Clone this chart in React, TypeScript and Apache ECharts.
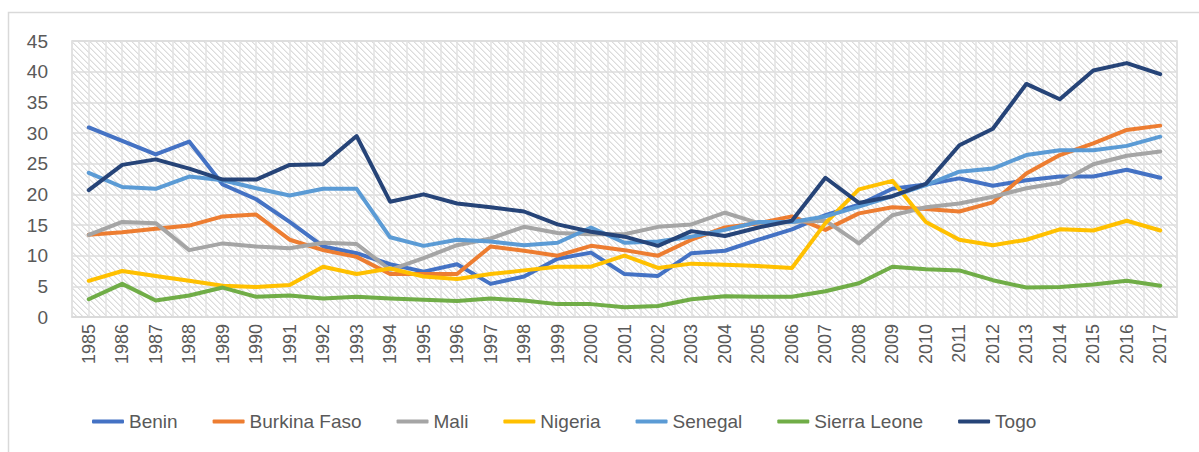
import React, { useEffect, useRef } from "react";
import * as echarts from "echarts";

const years = [
  "1985","1986","1987","1988","1989","1990","1991","1992","1993","1994","1995",
  "1996","1997","1998","1999","2000","2001","2002","2003","2004","2005","2006",
  "2007","2008","2009","2010","2011","2012","2013","2014","2015","2016","2017",
];

const benin = [30.9,28.7,26.5,28.6,21.6,19.2,15.5,11.5,10.4,8.6,7.4,8.6,5.4,6.6,9.5,10.5,7.0,6.7,10.4,10.8,12.6,14.3,16.6,18.3,20.9,21.6,22.6,21.4,22.3,22.9,22.9,24.0,22.7];
const burkinaFaso = [13.4,13.8,14.4,14.9,16.4,16.7,12.6,10.9,9.8,7.0,7.0,7.0,11.5,10.8,10.0,11.6,10.9,10.0,12.6,14.6,15.3,16.4,14.2,16.9,17.9,17.6,17.2,18.7,23.4,26.4,28.3,30.5,31.2];
const mali = [13.4,15.5,15.3,10.9,12.0,11.5,11.2,12.1,11.9,7.7,9.6,11.7,12.8,14.7,13.7,13.5,13.5,14.7,15.1,17.0,15.3,15.5,15.7,12.0,16.6,17.9,18.5,19.6,21.0,21.9,24.9,26.3,27.0];
const nigeria = [5.9,7.5,6.7,5.9,5.1,4.9,5.2,8.2,7.0,7.9,6.6,6.2,7.0,7.6,8.2,8.2,10.0,8.0,8.7,8.5,8.3,8.0,15.3,20.8,22.2,15.5,12.6,11.7,12.6,14.3,14.1,15.7,14.1];
const senegal = [23.5,21.2,20.9,22.9,22.3,21.0,19.8,20.9,20.9,13.0,11.6,12.6,12.3,11.7,12.1,14.6,12.1,12.3,13.1,14.2,15.5,15.5,16.4,18.0,19.7,21.5,23.7,24.2,26.4,27.2,27.2,27.9,29.4];
const sierraLeone = [2.9,5.4,2.7,3.5,4.8,3.3,3.5,3.0,3.3,3.0,2.8,2.6,3.0,2.7,2.1,2.1,1.6,1.8,2.9,3.4,3.3,3.3,4.2,5.5,8.2,7.8,7.6,6.0,4.8,4.9,5.3,5.9,5.1];
const togo = [20.7,24.8,25.7,24.2,22.4,22.4,24.8,24.9,29.5,18.8,20.0,18.5,17.9,17.2,15.1,13.9,13.1,11.6,14.0,13.2,14.6,15.7,22.7,18.6,19.7,21.7,28.0,30.7,38.0,35.5,40.2,41.4,39.6];

const seriesNames = ["Benin","Burkina Faso","Mali","Nigeria","Senegal","Sierra Leone","Togo"];
const seriesData = [benin, burkinaFaso, mali, nigeria, senegal, sierraLeone, togo];
const colors = ["#4472C4","#ED7D31","#A5A5A5","#FFC000","#5B9BD5","#70AD47","#264478"];

const yTicks = { min: 0, max: 45, interval: 5 };

function makeHatch() {
  const c = document.createElement("canvas");
  const n = 6;
  c.width = n;
  c.height = n;
  const ctx = c.getContext("2d")!;
  ctx.fillStyle = "#ffffff";
  ctx.fillRect(0, 0, n, n);
  for (let i = 0; i < n; i++) {
    ctx.fillStyle = "#dcdcdc";
    ctx.fillRect(i, i, 1, 1);
    ctx.fillStyle = "#ececec";
    ctx.fillRect((i + 1) % n, i, 1, 1);
  }
  return c;
}

export default function App() {
  const ref = useRef<HTMLDivElement>(null);
  useEffect(() => {
    document.body.style.margin = "0";
    const chart = echarts.init(ref.current!, null, { renderer: "svg" });
    const font = "Liberation Sans";
    chart.setOption({
      animation: false,
      backgroundColor: "#ffffff",
      textStyle: { fontFamily: font },
      graphic: [
        {
          type: "rect",
          shape: { x: 8.5, y: 12.5, width: 1200, height: 460 },
          style: { fill: "none", stroke: "#d9d9d9", lineWidth: 1.5 },
          z: -10,
          silent: true,
        },
      ],
      grid: {
        left: 72,
        top: 41,
        right: 22,
        bottom: 135,
        show: true,
        backgroundColor: { image: makeHatch(), repeat: "repeat" },
        borderColor: "#d9d9d9",
        borderWidth: 1.5,
      },
      legend: {
        left: 87,
        top: 407,
        icon: "roundRect",
        itemWidth: 32,
        itemHeight: 4,
        itemGap: 35,
        textStyle: { fontSize: 19, color: "#595959", fontFamily: font },
        data: seriesNames,
      },
      xAxis: [
        {
          type: "category",
          data: years,
          boundaryGap: true,
          axisLine: { show: true, lineStyle: { color: "#d9d9d9", width: 1.5 } },
          axisTick: { show: false },
          splitLine: { show: false },
          axisLabel: {
            rotate: 90,
            fontSize: 18,
            color: "#595959",
            margin: 7,
            interval: 0,
            fontFamily: font,
          },
        },
        {
          type: "value",
          min: 0,
          max: 66,
          interval: 1,
          position: "top",
          show: true,
          axisLine: { show: false },
          axisTick: { show: false },
          axisLabel: { show: false },
          splitLine: { show: true, lineStyle: { color: "#e2e2e2", width: 1.5 } },
        },
      ],
      yAxis: {
        type: "value",
        min: yTicks.min,
        max: yTicks.max,
        interval: yTicks.interval,
        axisLine: { show: false },
        axisTick: { show: false },
        axisLabel: { fontSize: 19, color: "#595959", margin: 24, fontFamily: font },
        splitLine: { show: true, lineStyle: { color: "#dcdcdc", width: 1.5 } },
      },
      series: seriesNames.map((name, i) => ({
        name,
        type: "line",
        xAxisIndex: 0,
        data: seriesData[i],
        showSymbol: false,
        symbol: "none",
        color: colors[i],
        lineStyle: { width: 4, color: colors[i], cap: "round", join: "round" },
        itemStyle: { color: colors[i] },
        z: 2 + i,
      })),
    });
    return () => chart.dispose();
  }, []);
  return <div ref={ref} style={{ width: 1199, height: 452 }} />;
}
